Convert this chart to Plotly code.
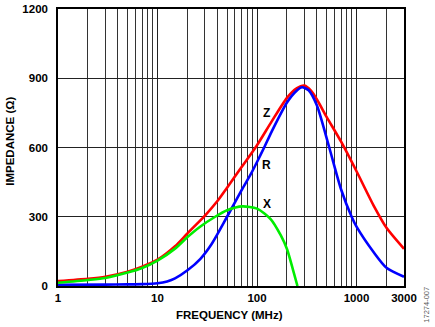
import plotly.graph_objects as go

# Impedance of the ferrite bead vs. frequency (MHz, ohms)
freq_z = [1, 2, 3, 5, 7, 10, 15, 20, 30, 40, 50, 70, 100, 140, 200, 250, 300, 350, 400, 500, 700, 1000, 1500, 2000, 3000]
z_vals = [21, 31, 40, 62, 84, 114, 172, 228, 305, 368, 426, 515, 610, 712, 815, 856, 868, 845, 808, 733, 625, 497, 345, 252, 161]

freq_r = [1, 3, 5, 7, 10, 12.5, 15, 20, 27, 35, 50, 70, 86, 100, 118, 140, 200, 250, 283, 330, 400, 532, 700, 893, 1000, 1500, 2000, 3000]
r_vals = [5, 6, 7, 8, 12, 20, 33, 68, 118, 182, 300, 415, 482, 537, 600, 668, 795, 846, 861, 848, 782, 600, 418, 300, 257, 144, 79, 40]

freq_x = [1, 2, 3, 5, 7, 10, 15, 20, 27, 38, 50, 71, 100, 137, 173, 200, 230, 255]
x_vals = [14, 26, 35, 58, 78, 110, 162, 212, 258, 300, 328, 345, 335, 290, 220, 160, 70, 0]

x_tick_vals = [1, 10, 100, 1000, 3000]
x_tick_text = ["1", "10", "100", "1000", "3000"]
x_minor_vals = [2, 3, 4, 5, 6, 7, 8, 9,
                20, 30, 40, 50, 60, 70, 80, 90,
                200, 300, 400, 500, 600, 700, 800, 900, 2000]
y_tick_vals = [0, 300, 600, 900, 1200]

FONT = "Liberation Sans, Arial, sans-serif"
LINE = dict(width=2.6, shape="spline", smoothing=0.7)

fig = go.Figure()
fig.add_trace(go.Scatter(x=freq_z, y=z_vals, mode="lines", name="Z",
                         line=dict(color="#ff0000", **LINE)))
fig.add_trace(go.Scatter(x=freq_r, y=r_vals, mode="lines", name="R",
                         line=dict(color="#0000ff", **LINE)))
fig.add_trace(go.Scatter(x=freq_x, y=x_vals, mode="lines", name="X",
                         line=dict(color="#00ee00", **LINE)))

# curve labels
for label, yv in (("Z", 751), ("R", 526), ("X", 357)):
    fig.add_annotation(x=2.098, y=yv, xref="x", yref="y", text=label, showarrow=False,
                       font=dict(family=FONT, size=12, color="#000", weight="bold"))

fig.add_annotation(x=-0.139, y=0.524, xref="paper", yref="paper", text="IMPEDANCE (Ω)",
                   showarrow=False, textangle=-90, xanchor="center", yanchor="middle",
                   font=dict(family=FONT, size=11.5, color="#000", weight="bold"))
fig.add_annotation(x=0.497, y=-0.106, xref="paper", yref="paper", text="FREQUENCY (MHz)",
                   showarrow=False, xanchor="center", yanchor="middle",
                   font=dict(family=FONT, size=11.5, color="#000", weight="bold"))
fig.add_annotation(x=1.066, y=-0.068, xref="paper", yref="paper", text="17274-007",
                   showarrow=False, textangle=-90, xanchor="center", yanchor="middle",
                   font=dict(family=FONT, size=7.5, color="#555"))

fig.update_layout(
    width=435, height=327,
    margin=dict(l=58, r=31, t=9, b=40.5),
    paper_bgcolor="white", plot_bgcolor="white",
    showlegend=False,
    font=dict(family=FONT, size=11.5, color="#000"),
)
fig.update_xaxes(
    type="log", range=[0, 3.4771], automargin=False,
    tickmode="array", tickvals=x_tick_vals, ticktext=x_tick_text,
    tickfont=dict(family=FONT, size=11.5, color="#000", weight="bold"),
    showgrid=True, gridcolor="#222", gridwidth=1,
    minor=dict(tickmode="array", tickvals=x_minor_vals, showgrid=True, gridcolor="#333", gridwidth=1, ticks=""),
    showline=True, linecolor="#000", linewidth=1.5, mirror=True,
    ticks="", zeroline=False,
)
fig.update_yaxes(
    range=[0, 1200], automargin=False,
    tickmode="array", tickvals=y_tick_vals,
    tickfont=dict(family=FONT, size=11.5, color="#000", weight="bold"),
    showgrid=True, gridcolor="#222", gridwidth=1,
    showline=True, linecolor="#000", linewidth=1.5, mirror=True,
    ticks="", zeroline=False, ticklabelstandoff=6,
)

fig.write_html("out.html")
